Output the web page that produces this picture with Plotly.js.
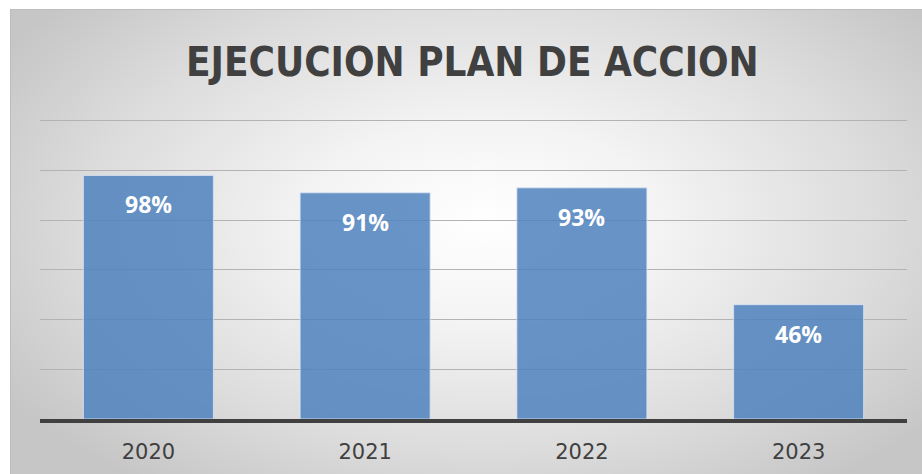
<!DOCTYPE html>
<html>
<head>
<meta charset="utf-8">
<script src="https://cdn.plot.ly/plotly-3.0.1.min.js"></script>
<style>
  html, body { margin: 0; padding: 0; background: #ffffff; }
  #frame {
    position: absolute; left: 10px; top: 9px; width: 912px; height: 465px;
    background: radial-gradient(ellipse 62% 70% at 52% 46%, #ffffff 0%, #f4f4f4 30%, #dcdcdc 70%, #c6c6c6 100%);
    box-shadow: inset 1px 1px 0 #bdbdbd;
  }
  #chart { position: absolute; left: 0; top: 0; width: 912px; height: 465px; }
</style>
</head>
<body>
<div id="frame"><div id="chart"></div></div>
<script>
const categories = ["2020", "2021", "2022", "2023"];
const values = [0.98, 0.91, 0.93, 0.46];
const labels = ["98%", "91%", "93%", "46%"];
const yTicks = [0, 0.2, 0.4, 0.6, 0.8, 1.0, 1.2];

const trace = {
  type: "bar",
  x: categories,
  y: values,
  marker: {
    color: "rgba(79,129,189,0.85)",
    line: { color: "rgba(220,230,245,0.8)", width: 1 }
  },
  hoverinfo: "skip"
};

const annotations = categories.map((c, i) => ({
  x: i, y: values[i], xref: "x", yref: "y",
  text: "<b>" + labels[i] + "</b>",
  showarrow: false, yanchor: "top", yshift: -11,
  font: { family: "Open Sans, sans-serif", size: 23, color: "#ffffff" }
}));

const layout = {
  width: 912, height: 465,
  paper_bgcolor: "rgba(0,0,0,0)",
  plot_bgcolor: "rgba(0,0,0,0)",
  margin: { l: 30, r: 15, t: 108, b: 55, pad: 0 },
  title: {
    text: "<b>EJECUCION PLAN DE ACCION</b>",
    x: 0.507, xanchor: "center", y: 0.886, yanchor: "middle", yref: "container",
    font: { family: "DejaVu Sans Condensed, Liberation Sans, sans-serif", size: 40, color: "#404040" }
  },
  bargap: 0.4,
  showlegend: false,
  xaxis: {
    type: "category",
    categoryorder: "array",
    categoryarray: categories,
    range: [-0.5, categories.length - 0.5],
    autorange: false,
    showgrid: false,
    showline: true, linecolor: "#404040", linewidth: 4,
    ticks: "",
    tickfont: { family: "DejaVu Sans, sans-serif", size: 21, color: "#404040" },
    ticklabelstandoff: 11
  },
  yaxis: {
    range: [0, 1.215],
    autorange: false,
    tickvals: yTicks,
    showticklabels: false,
    showgrid: true, gridcolor: "#b3b3b3", gridwidth: 1,
    zeroline: false, showline: false, ticks: ""
  },
  annotations: annotations
};

Plotly.newPlot("chart", [trace], layout, { displayModeBar: false, staticPlot: true });
</script>
</body>
</html>
